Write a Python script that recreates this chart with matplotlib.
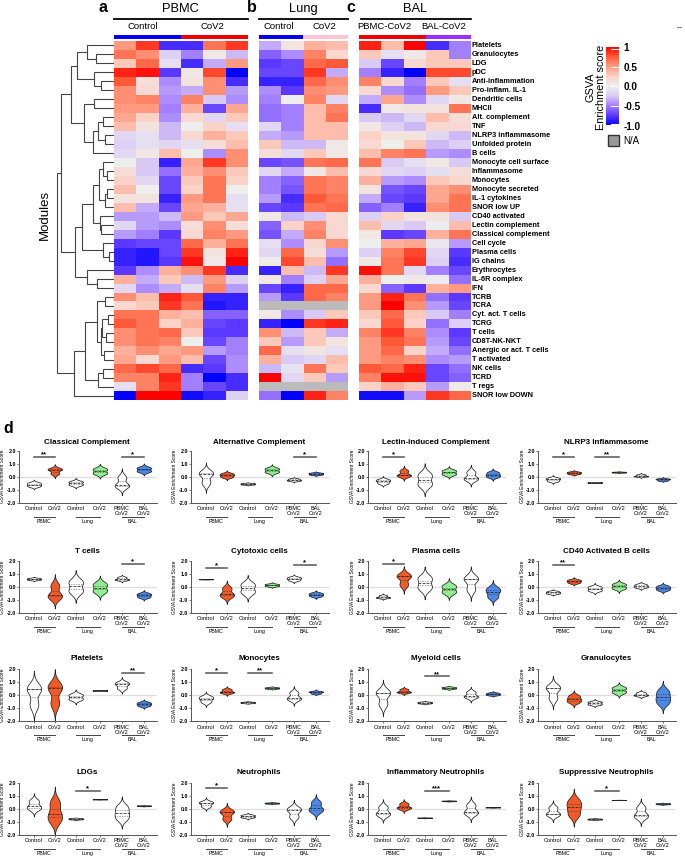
import numpy as np
import matplotlib
matplotlib.use("Agg")
import matplotlib.pyplot as plt
from matplotlib.colors import LinearSegmentedColormap, Normalize
from matplotlib.cm import ScalarMappable
from matplotlib.mlab import GaussianKDE
from matplotlib.patches import Rectangle
from matplotlib.transforms import blended_transform_factory

plt.rcParams['font.family'] = ['Liberation Sans', 'DejaVu Sans']

# =====================================================
# HEATMAP DATA
# =====================================================

modules = [
    "Platelets", "Granulocytes", "LDG", "pDC", "Anti-inflammation", "Pro-inflam. IL-1",
    "Dendritic cells", "MHCII", "Alt. complement", "TNF", "NLRP3 inflammasome",
    "Unfolded protein", "B cells", "Monocyte cell surface", "Inflammasome", "Monocytes",
    "Monocyte secreted", "IL-1 cytokines", "SNOR low UP", "CD40 activated",
    "Lectin complement", "Classical complement", "Cell cycle", "Plasma cells", "IG chains",
    "Erythrocytes", "IL-6R complex", "IFN", "TCRB", "TCRA", "Cyt. act. T cells", "TCRG",
    "T cells", "CD8T-NK-NKT", "Anergic or act. T cells", "T activated", "NK cells", "TCRD",
    "T regs", "SNOR low DOWN",
]

nan = float('nan')

pbmc_values = [
    [.5, .85, -.8, -.8, .65, .85], [.65, .55, -.2, -.5, .05, -.3], [.3, .7, -.1, -.8, -.35, .5],
    [.9, .95, -.75, .05, .8, -1], [.75, .15, -.45, .1, .55, -.8], [.55, .2, -.4, -.35, .55, -.4],
    [.55, .6, -.45, .6, -.25, -.45], [.5, .5, -.5, .4, -.7, .45], [.45, .25, -.45, .2, -.15, .3],
    [.35, .1, -.3, 0, .25, -.1], [-.15, -.1, -.3, .2, .4, .3], [-.2, -.1, -.15, -.1, .15, .35],
    [-.15, .05, .35, 0, -.45, .55], [0, -.25, -.85, .45, .85, .55], [.15, -.25, -.55, .4, .55, .3],
    [.25, -.15, -.7, .3, .65, .25], [.35, 0, -.7, .25, .65, 0], [.1, .1, -.85, .5, .65, -.1],
    [.35, -.35, -.7, .45, .4, -.1], [-.4, -.4, -.3, .5, .3, .45], [-.15, -.4, -.45, .15, .55, .15],
    [-.4, -.5, -.75, .2, .6, .5], [-.75, -.7, -.7, .7, .4, .65], [-.85, -.9, -.7, .85, .1, .9],
    [-.85, -.9, -.75, .95, .05, 1], [-.75, -.45, .4, .55, .85, -.8], [.4, -.35, .3, -.3, .5, -.2],
    [-.15, -.45, -.35, -.1, .6, -.4], [.55, .35, .9, .75, -.85, -.85], [.2, .3, .85, .65, -.9, -.85],
    [.65, .65, .4, .35, -.6, -.6], [.75, .65, .25, .4, -.7, -.75], [.55, .65, .7, .3, -.75, -.75],
    [.55, .65, .6, 0, -.7, -.5], [.4, .55, .45, .5, -.4, -.5], [.45, .2, .5, .35, -.7, -.45],
    [.7, .8, .7, -.8, -.75, -.45], [.6, .6, .9, -.5, -1, -.8], [-.1, .6, .85, -.5, -.7, -.8],
    [-1, 1, 1, -.95, -.85, -.2],
]

lung_values = [
    [-.35, .1, .4, .35], [-.6, -.45, .6, .2], [-.75, -.7, .7, .75], [-.7, -.7, .85, -.35],
    [-.85, -.85, .7, .55], [-.45, -.75, .55, .5], [-.5, 0, .6, -.15], [-.55, -.5, .35, .6],
    [-.55, -.5, .35, .65], [-.15, -.5, .35, .35], [-.35, -.4, .35, .35], [.3, -.3, -.3, .05],
    [.15, -.15, .3, .05], [-.7, -.65, .65, .7], [-.15, -.35, .05, .35], [-.5, -.6, .65, .6],
    [-.5, -.65, .65, .6], [-.4, -.8, .75, .65], [-.7, -.75, .65, .7], [.05, -.3, -.25, .2],
    [-.6, .25, .55, .2], [-.65, -.35, .6, .2], [-.1, -.45, .2, .55], [-.15, .7, .15, -.4],
    [.03, .8, .35, -.55], [-.85, .35, -.3, .85], [.05, -.5, -.2, .45], [-.7, -.85, .7, .7],
    [-.4, -.75, .7, .6], [nan, nan, nan, nan], [.05, -.45, -.25, .3], [-.85, -1, .85, .9],
    [.55, -.3, .3, -.35], [.3, -.4, .3, .08], [.7, -.1, .08, -.1], [.4, -.25, -.15, .35],
    [-.3, -.08, .65, .3], [1, -.15, .3, -.4], [nan, nan, nan, nan], [-.55, -1, .9, .6],
]

bal_values = [
    [.9, .35, 1, -.8, -.5], [.3, -.1, .05, .3, -.5], [-.25, -.7, .2, .3, .3], [-.5, -.85, -1, .8, .8],
    [.6, .2, -.5, .3, -.1], [.2, -.45, -.55, .5, .3], [-.35, .45, -.45, -.15, .05], [-.8, .05, .1, .1, .65],
    [-.25, -.3, -.15, .35, .15], [.05, -.2, -.3, .2, .2], [.25, .1, .1, -.15, -.3], [.2, 0, .3, -.3, -.2],
    [.35, .6, .65, -.4, -.45], [.65, -.25, -.1, .05, -.25], [.2, -.15, -.2, -.12, .15], [.4, -.4, -.45, .3, .2],
    [.1, -.65, -.7, .45, .55], [-.35, -.7, -.75, .45, .65], [-.6, -.5, -.85, .55, .65], [-.2, .25, .1, .1, -.25],
    [.35, -.15, -.25, -.02, .35], [.05, -.75, -.7, .4, .65], [0, .4, .45, -.05, -.4], [-.2, .6, .8, -.15, -.75],
    [.05, .65, .85, -.2, -.8], [.95, .65, -.15, -.5, -.7], [.4, 0, .05, -.02, -.55], [.2, -.6, -.75, .4, .5],
    [.5, .9, .65, -.55, -.75], [.5, 1, .55, -.4, -.7], [.3, .7, .3, -.25, -.5], [.2, .75, .25, -.55, -.2],
    [.6, .85, .6, -.45, -.75], [.5, .75, .65, -.4, -.7], [.5, .7, .25, -.35, -.55], [.5, .6, .55, -.45, -.4],
    [.75, .7, .9, -.7, -.55], [.6, .95, .95, -.7, -.6], [.25, .4, .3, -.4, .03], [-.95, -.95, -.4, .85, .7],
]

# merge tree of the modules, (distance, upper branch, lower branch), numbers are rows
top_six = (36.7, (27, 0, (18, 1, 2)), (20, 3, (13, 4, 5)))
next_seven = (29.5, (20, 6, 7), (21, (15.5, (11, 8, 9), (9, 10, 11)), 12))
first_group = (42.7, top_six, next_seven)
mono_group = (15, (10.7, 13, (6.7, 14, 15)), (9, (7, 16, 17), 18))
second_group = (39, (31.7, (20.7, mono_group, (14, 19, (12.5, 20, 21))), (11, 22, (5, 23, 24))),
                (27.3, 25, (17, 26, 27)))
t_group = (16.7, (8.5, 28, 29), (13, (12, (5.7, 30, 31), (8, 32, 33)), (10, 34, 35)))
third_group = (40, (29, t_group, (16, (11, 36, 37), 38)), 39)
module_tree = (57, (53, first_group, second_group), third_group)

# =====================================================
# VIOLIN DATA (scores per group, PBMC / Lung / BAL)
# =====================================================

groups = ["Control", "CoV2", "Control", "CoV2", "PBMC\nCoV2", "BAL\nCoV2"]
group_x = [0, 0.95, 1.9, 3.0, 4.0, 5.0]

classical = [[-.73, -.6, -.47], [.25, .55, .6], [-.61, -.39], [.27, .58], [-.72, -.65, -.06], [.43, .68]]
alternative = [[-.45, .23, .3], [-.02, .12, .24], [-.585, -.515], [.37, .62], [-.3, -.24, -.16], [.18, .28]]
lectin = [[-.5, -.33, -.22], [.08, .12, .45], [-.57, .11], [.2, .46], [-.2, -.1, .35], [0, .15, .33]]
nlrp3 = [[-.33, -.2, -.1], [.22, .3, .37], [-.455, -.44], [.33, .37], [.03, .06, .16], [-.28, -.2, -.15]]
t_cells = [[.56, .62, .68], [-.75, -.65, .1], [-.3, .38], [-.3, .2], [.55, .6, .75], [-.78, -.63, -.5]]
cytotoxic = [[.59, .6, .61], [-.7, -.55, -.1], [-.37, .18], [.09, .21], [.52, .65, .75], [-.7, -.58, -.47]]
plasma = [[-.82, -.8, -.66], [.2, .82, .88], [-.02, .66], [-.38, .07], [-.17, .6, .68], [-.75, -.35, -.1]]
cd40 = [[-.5, -.42, -.33], [.33, .45, .55], [-.25, -.01], [-.08, .2], [-.02, .08, .2], [-.22, -.07, .07]]
platelets = [[-.7, .45, .55], [-.6, .6, .65], [-.28, .03], [.36, .38], [.55, .85, .98], [-.8, -.67, -.55]]
monocytes = [[-.5, -.25, -.1], [.2, .27, .45], [-.58, -.52], [.53, .6], [-.3, -.2, .2], [.15, .25, .3]]
myeloid = [[-.65, .15, .25], [.23, .27, .45], [-.6, -.52], [.53, .62], [-.15, -.05, .25], [.03, .1, .18]]
granulocytes = [[-.2, .55, .62], [-.5, -.3, -.05], [-.68, -.51], [.25, .57], [-.02, .05, .2], [-.55, -.15, .3]]
ldgs = [[.02, .2, .62], [-.85, -.4, .45], [-.78, -.72], [.74, .76], [-.7, -.3, .15], [.23, .26, .27]]
neutrophils = [[.2, .45, .55], [-.75, -.25, -.15], [-.62, -.48], [.43, .48], [-.6, -.1, .05], [-.15, .05, .5]]
inflammatory = [[-.45, -.3, .15], [.05, .13, .4], [-.685, -.66], [.61, .64], [-.35, -.2, .3], [.12, .14]]
suppressive = [[-.45, -.35, .1], [-.4, .15, .6], [-.8, -.75], [.69, .7], [-.6, -.45, .1], [.38, .43]]

panel_titles = [
    "Classical Complement", "Alternative Complement", "Lectin-induced Complement", "NLRP3 Inflammasome",
    "T cells", "Cytotoxic cells", "Plasma cells", "CD40 Activated B cells",
    "Platelets", "Monocytes", "Myeloid cells", "Granulocytes",
    "LDGs", "Neutrophils", "Inflammatory Neutrophils", "Suppressive Neutrophils",
]
panel_data = [
    classical, alternative, lectin, nlrp3,
    t_cells, cytotoxic, plasma, cd40,
    platelets, monocytes, myeloid, granulocytes,
    ldgs, neutrophils, inflammatory, suppressive,
]
# significance bars: (first group, second group, stars, height)
panel_sig = [
    [(0, 1, '**', 1.5), (4, 5, '*', 1.5)], [(4, 5, '*', 1.5)], [(0, 1, '*', 1.5)], [(0, 1, '*', 1.5), (2, 3, '**', 1.5)],
    [(4, 5, '*', 1.75)], [(0, 1, '*', 1.5), (4, 5, '*', 1.7)], [(0, 1, '*', 1.75)], [(0, 1, '**', 1.7)],
    [(4, 5, '**', 1.7)], [(0, 1, '*', 1.75), (2, 3, '**', 1.75)], [(2, 3, '**', 1.45)], [],
    [(2, 3, '*', 1.4)], [(0, 1, '*', 1.6)], [(2, 3, '***', 1.4)], [(2, 3, '*', 1.4)],
]
violin_colors = ['white', '#F05A28', 'white', '#90EE90', 'white', '#4D88E8']

# =====================================================
# FIGURE HELPERS
# =====================================================

W, H = 685, 857
fig = plt.figure(figsize=(W / 100, H / 100), dpi=100)
fig.patch.set_facecolor('white')


def px_axes(left, top, right, bottom):
    return fig.add_axes([left / W, 1 - bottom / H, (right - left) / W, (bottom - top) / H])


def px_text(x, y, s, **kwargs):
    kwargs.setdefault('ha', 'center')
    kwargs.setdefault('va', 'center')
    fig.text(x / W, 1 - y / H, s, **kwargs)


def px_line(x0, x1, y0, y1, color='black', lw=1.3):
    fig.add_artist(plt.Line2D([x0 / W, x1 / W], [1 - y0 / H, 1 - y1 / H], color=color, lw=lw))


cmap = LinearSegmentedColormap.from_list(
    'gsva',
    ['#0000ff', '#5a38ff', '#a27eff', '#d9c9f5', '#eeeeee', '#fbd3c8', '#ff9c82', '#ff5c3a', '#ff0000'],
)
cmap.set_bad('#bbbbbb')

# =====================================================
# HEATMAPS a, b, c
# =====================================================

heat_top, heat_bottom = 41, 400.3

for values, left, right in [(pbmc_values, 114, 248), (lung_values, 259, 348), (bal_values, 359, 471)]:
    ax = px_axes(left, heat_top, right, heat_bottom)
    data = np.ma.masked_invalid(np.array(values, dtype=float))
    ax.pcolormesh(data, cmap=cmap, vmin=-1, vmax=1)
    ax.set_ylim(len(modules), 0)
    ax.axis('off')

# column colour strips
for left, right, color in [(114, 181, '#0000ee'), (181, 248, '#ee0000'), (259, 303, '#0000ee'),
                           (303, 348, '#ffc4d4'), (359, 426, '#ee0000'), (426, 471, '#9a30ff')]:
    fig.add_artist(Rectangle((left / W, 1 - 38.5 / H), (right - left) / W, 3.5 / H,
                             transform=fig.transFigure, color=color, lw=0))

# headers
for x, s in [(180, "PBMC"), (303, "Lung"), (415, "BAL")]:
    px_text(x, 9, s, fontsize=9.3)
for x0, x1 in [(114, 248), (259, 348), (361, 471)]:
    px_line(x0, x1, 18.5, 18.5)
for x, s in [(143, "Control"), (212, "CoV2"), (279, "Control"), (324, "CoV2"),
             (384, "PBMC-CoV2"), (444, "BAL-CoV2")]:
    px_text(x, 26.5, s, fontsize=6.8)

for x, y, s in [(103, 8, "a"), (252, 8, "b"), (351, 8, "c"), (8, 429, "d")]:
    px_text(x, y, s, fontsize=11.5, fontweight='bold')

# module names
row_h = (heat_bottom - heat_top) / len(modules)
for i, name in enumerate(modules):
    px_text(472, heat_top + (i + 0.5) * row_h, name, fontsize=5.3, fontweight='bold', ha='left')

px_text(45, 215, "Modules", fontsize=9.5, rotation=90)

# dendrogram
dendro = px_axes(50, heat_top, 114, heat_bottom)


def draw_tree(node):
    if isinstance(node, int):
        return 1.0, node + 0.5
    d, upper, lower = node
    d0, y0 = draw_tree(upper)
    d1, y1 = draw_tree(lower)
    dendro.plot([d0, d, d, d1], [y0, y0, y1, y1], color='#444444', lw=0.8, solid_joinstyle='miter')
    return d, (y0 + y1) / 2


draw_tree(module_tree)
dendro.set_xlim(64, 0)
dendro.set_ylim(len(modules), 0)
dendro.axis('off')

# colour bar and N/A key
cax = px_axes(606, 47, 619, 125.5)
cbar = fig.colorbar(ScalarMappable(Normalize(-1, 1), cmap), cax=cax)
cbar.set_ticks([1, 0.5, 0, -0.5, -1], labels=["1", "0.5", "0.0", "-0.5", "-1.0"])
cbar.ax.tick_params(length=0, labelsize=7.2, pad=3)
for label in cbar.ax.get_yticklabels():
    label.set_fontweight('bold')
for value in [0.95, 0.5, 0, -0.5, -0.95]:
    cax.plot([0.4, 1], [value, value], color='white', lw=0.8, transform=cax.get_yaxis_transform())
cbar.outline.set_visible(False)
px_text(596, 87, "GSVA\nEnrichment score", fontsize=7.8, rotation=90, linespacing=1.05)

fig.add_artist(Rectangle((608 / W, 1 - 146 / H), 11 / W, 11 / H, transform=fig.transFigure,
                         facecolor='#999999', edgecolor='#333333', lw=1))
px_text(623, 141, "N/A", fontsize=7, ha='left')
px_line(677, 681, 27, 27, color='#888888', lw=0.8)

# =====================================================
# VIOLIN PANELS d
# =====================================================

col_left = [19, 191, 368, 538]
row_top = [450.7, 561, 669.3, 783]
title_gap = [8.5, 9.5, 11, 10]
panel_h = 52
panel_w = 138
half_width = 0.33
smoothing = 0.55
cut = 3.5

for i, title in enumerate(panel_titles):
    left = col_left[i % 4]
    top = row_top[i // 4]
    ax = px_axes(left, top, left + panel_w, top + panel_h)
    ax.axhline(0, color='#dddddd', lw=0.9, zorder=0)

    for x, samples, color in zip(group_x, panel_data[i], violin_colors):
        samples = np.array(samples)
        kde = GaussianKDE(samples, bw_method=smoothing)
        bw = np.sqrt(kde.covariance[0, 0])
        grid = np.linspace(samples.min() - cut * bw, samples.max() + cut * bw, 120)
        dens = kde.evaluate(grid)
        # fuller shoulders, like the rounded violins of the original
        dens = (dens / dens.max()) ** 0.75 * half_width
        ax.fill_betweenx(grid, x - dens, x + dens, facecolor=color, edgecolor='#222222', lw=0.55, zorder=2)
        for q, style, w in [(25, ':', 0.45), (50, '--', 0.55), (75, ':', 0.45)]:
            y = np.percentile(samples, q)
            half = np.interp(y, grid, dens)
            ax.plot([x - half, x + half], [y, y], color='#222222', lw=w, ls=style, zorder=3)

    for g0, g1, stars, y in panel_sig[i]:
        ax.plot([group_x[g0], group_x[g1]], [y, y], color='#555555', lw=1.1, zorder=3)
        ax.text((group_x[g0] + group_x[g1]) / 2, y - 0.1, stars, ha='center', va='bottom',
                fontsize=5.5, fontweight='bold')

    ax.set_xlim(-0.68, 5.6)
    ax.set_ylim(-2, 2)
    ax.set_xticks(group_x)
    ax.set_xticklabels(groups, fontsize=4, linespacing=1.0)
    ax.set_yticks([-2, -1, 0, 1, 2])
    ax.set_yticklabels(["-2.0", "-1.0", "0.0", "1.0", "2.0"], fontsize=3.9, fontweight='bold')
    ax.tick_params(axis='y', length=1.5, width=0.5, pad=0.6, color='#444444')
    ax.tick_params(axis='x', length=1.5, width=0.5, pad=1, color='#444444')
    ax.set_ylabel("GSVA Enrichment Score", fontsize=3.5)
    ax.yaxis.set_label_coords(-13.5 / panel_w, 0.5)
    for side in ['top', 'right']:
        ax.spines[side].set_visible(False)
    for side in ['left', 'bottom']:
        ax.spines[side].set_linewidth(0.7)
        ax.spines[side].set_color('#555555')

    px_text(left + panel_w / 2 - 1, top - title_gap[i // 4], title, fontsize=5.8, fontweight='bold')

    # tissue brackets under the tick labels
    trans = blended_transform_factory(ax.transData, ax.transAxes)
    for g0, g1, tissue in [(0, 1, "PBMC"), (2, 3, "Lung"), (4, 5, "BAL")]:
        ax.plot([group_x[g0], group_x[g1]], [-14 / panel_h, -14 / panel_h], transform=trans,
                color='#444444', lw=0.7, clip_on=False)
        ax.text((group_x[g0] + group_x[g1]) / 2, -18.5 / panel_h, tissue, transform=trans,
                ha='center', va='center', fontsize=3.8)

fig.savefig("out.png", dpi=100)
